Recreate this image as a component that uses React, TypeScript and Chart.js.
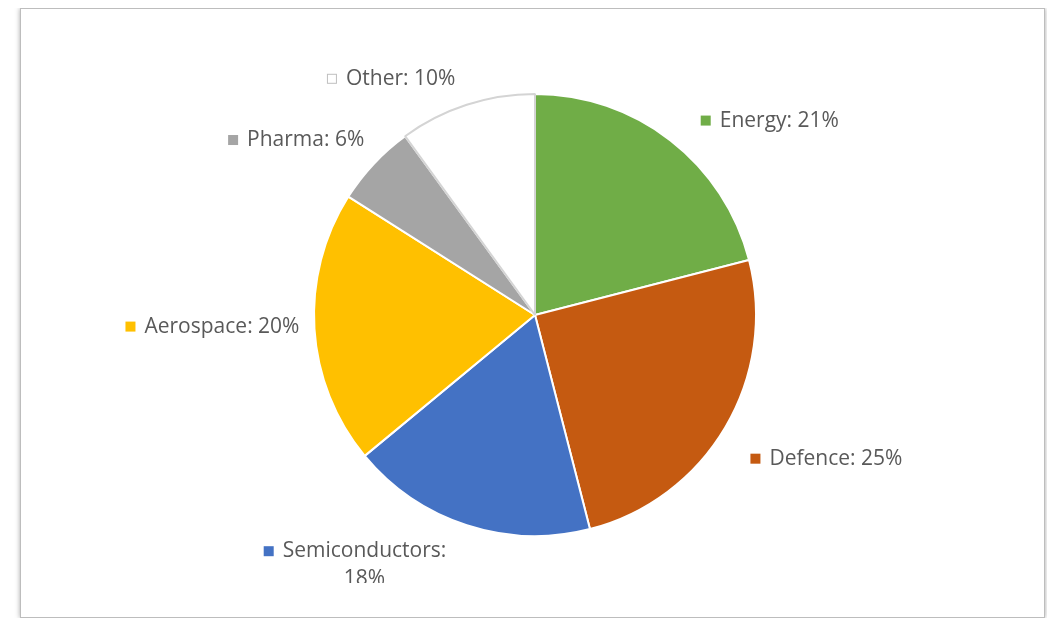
import React, { useEffect, useRef } from "react";
import { Chart, registerables } from "chart.js";

Chart.register(...registerables);

const categories = ["Energy", "Defence", "Semiconductors", "Aerospace", "Pharma", "Other"];
const shares = [21, 25, 18, 20, 6, 10];
const sliceColors = ["#70AD47", "#C55A11", "#4472C4", "#FFC000", "#A5A5A5", "#FFFFFF"];
const sliceBorders = ["#FFFFFF", "#FFFFFF", "#FFFFFF", "#FFFFFF", "#FFFFFF", "#D4D4D4"];

// layout: small per-label nudges (px) to mimic the spreadsheet's best-fit placement
const LABEL_NUDGE_X = [16, 6, -19, 7, 7, -8];
const LABEL_NUDGE_Y = [9, 8, -6, -6, 3, 6];

const FONT = "21px 'Open Sans', 'Liberation Sans', sans-serif";
const TEXT_COLOR = "#595959";
const MAX_LABEL_WIDTH = 180;
const LINE_H = 28;
const CLIP_BOTTOM = 574;

function wrap(ctx: CanvasRenderingContext2D, text: string, maxW: number): string[] {
  const words = text.split(" ");
  const lines: string[] = [];
  let cur = "";
  for (const w of words) {
    const t = cur ? cur + " " + w : w;
    if (ctx.measureText(t).width > maxW && cur) {
      lines.push(cur);
      cur = w;
    } else cur = t;
  }
  if (cur) lines.push(cur);
  return lines;
}

const labelPlugin = {
  id: "outsideLabels",
  afterDraw(chart: any) {
    const ctx: CanvasRenderingContext2D = chart.ctx;
    const meta = chart.getDatasetMeta(0);
    ctx.save();
    ctx.beginPath();
    ctx.rect(0, 0, chart.width, CLIP_BOTTOM);
    ctx.clip();
    ctx.font = FONT;
    ctx.textBaseline = "middle";
    meta.data.forEach((arc: any, i: number) => {
      const p = arc.getProps(["x", "y", "startAngle", "endAngle", "outerRadius"], true);
      const mid = (p.startAngle + p.endAngle) / 2;
      const dx = Math.cos(mid);
      const dy = Math.sin(mid);
      const ax = p.x + dx * (p.outerRadius + 20) + LABEL_NUDGE_X[i];
      const ay = p.y + dy * (p.outerRadius + 20) + LABEL_NUDGE_Y[i];
      const text = `${categories[i]}: ${shares[i]}%`;
      const lines = wrap(ctx, text, MAX_LABEL_WIDTH);
      const marker = 10;
      const gap = 9;
      const textW = Math.max(...lines.map((l) => ctx.measureText(l).width));
      const w = marker + gap + textW + 4;
      const h = lines.length * LINE_H - 2;
      const sx = Math.max(-1, Math.min(1, dx * 3));
      const sy = Math.max(-1, Math.min(1, dy * 3));
      const cx = ax + (sx * w) / 2;
      const cy = ay + (sy * h) / 2;
      const left = cx - w / 2;
      const top = cy - h / 2;
      const my = top + (LINE_H - 2) / 2;
      ctx.fillStyle = sliceColors[i];
      ctx.fillRect(left + 2, my - marker / 2, marker, marker);
      if (sliceColors[i].toUpperCase() === "#FFFFFF") {
        ctx.strokeStyle = "#BFBFBF";
        ctx.lineWidth = 1;
        ctx.strokeRect(left + 2.5, my - marker / 2 + 0.5, marker - 1, marker - 1);
      }
      ctx.fillStyle = TEXT_COLOR;
      const tx = left + 2 + marker + gap;
      lines.forEach((l, li) => {
        if (li === 0) {
          ctx.textAlign = "left";
          ctx.fillText(l, tx, my);
        } else {
          ctx.textAlign = "center";
          ctx.fillText(l, tx + textW / 2, my + li * LINE_H);
        }
      });
    });
    ctx.restore();
  },
};

export default function App() {
  const ref = useRef<HTMLCanvasElement | null>(null);
  useEffect(() => {
    if (!ref.current) return;
    const chart = new Chart(ref.current, {
      type: "pie",
      data: {
        labels: categories,
        datasets: [
          {
            data: shares,
            backgroundColor: sliceColors,
            borderColor: sliceBorders,
            borderWidth: 2,
          },
        ],
      },
      options: {
        animation: false,
        responsive: false,
        maintainAspectRatio: false,
        layout: { padding: { top: 84, bottom: 80, left: 292, right: 287 } },
        plugins: { legend: { display: false }, tooltip: { enabled: false } },
      },
      plugins: [labelPlugin],
    });
    return () => chart.destroy();
  }, []);
  return (
    <div
      style={{
        marginLeft: 12,
        width: 1023,
        height: 608,
        border: "1px solid #BDBDBD",
        boxShadow: "0 0 5px rgba(0,0,0,0.35)",
        background: "#fff",
      }}
    >
      <canvas ref={ref} width={1023} height={608} style={{ display: "block" }} />
    </div>
  );
}
